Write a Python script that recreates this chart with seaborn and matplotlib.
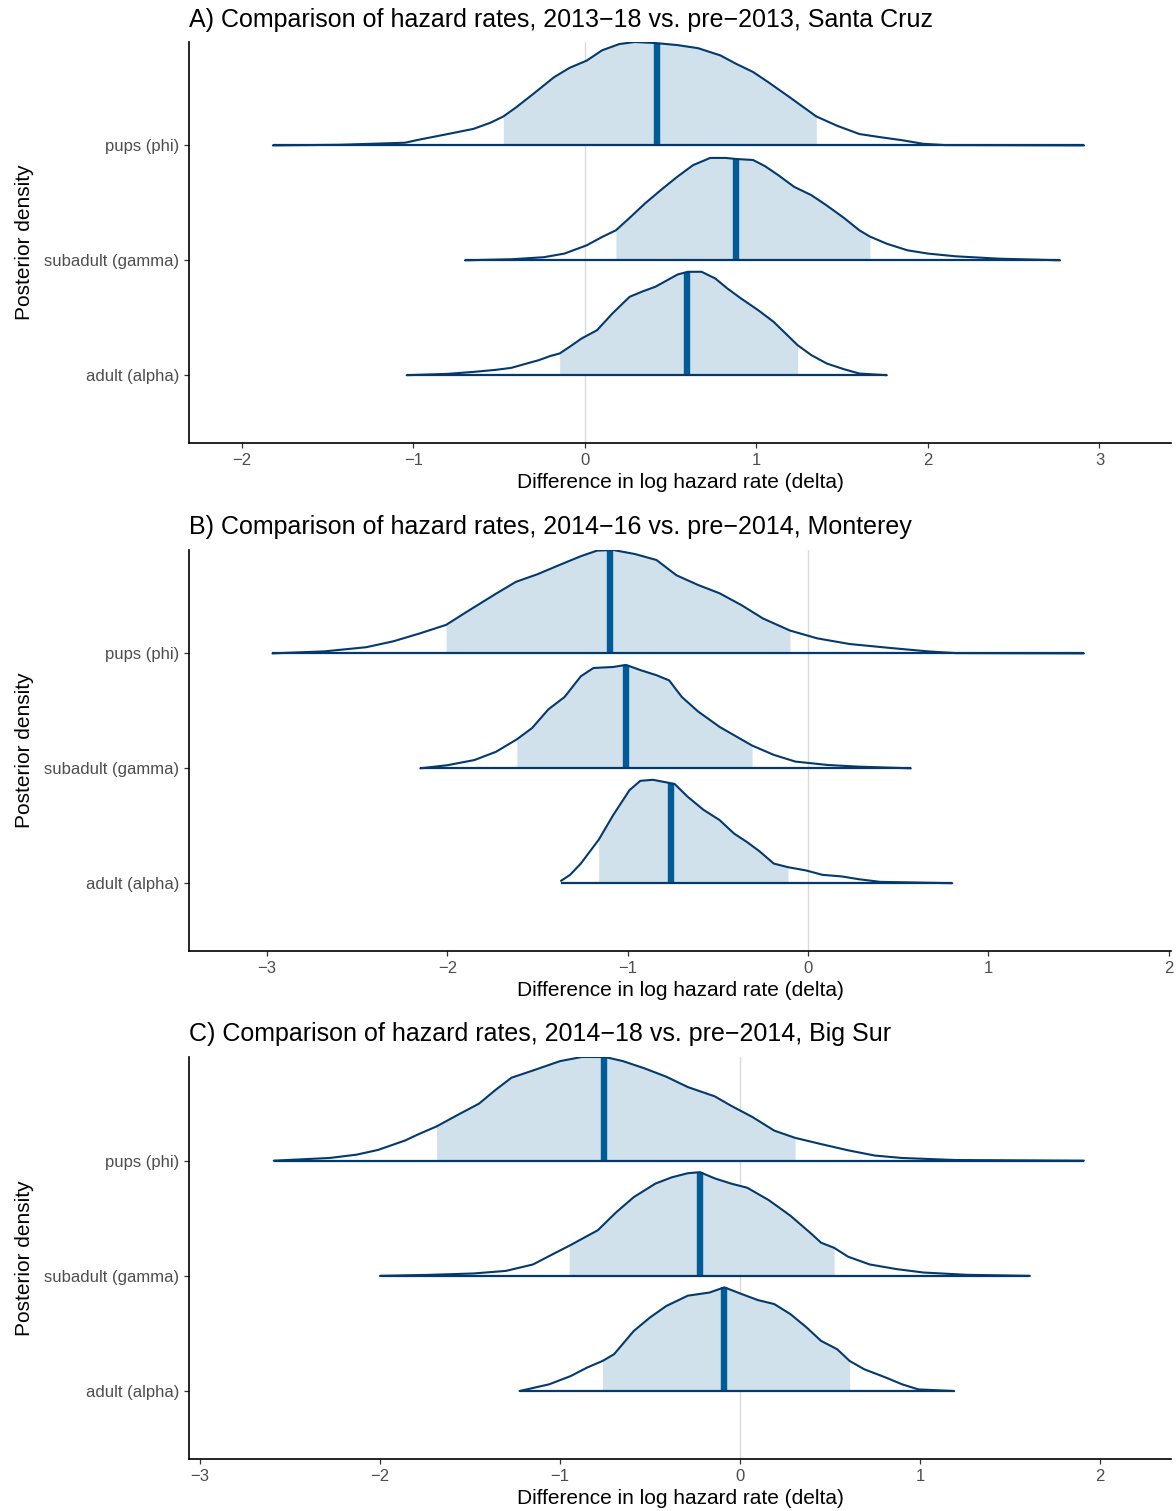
import numpy as np
import pandas as pd
import matplotlib
matplotlib.use("Agg")
import matplotlib.pyplot as plt
import seaborn as sns

# parameters, top to bottom
params = ["pups (phi)", "subadult (gamma)", "adult (alpha)"]
rows = [3, 2, 1]

titles = [
    "A) Comparison of hazard rates, 2013\u221218 vs. pre\u22122013, Santa Cruz",
    "B) Comparison of hazard rates, 2014\u221216 vs. pre\u22122014, Monterey",
    "C) Comparison of hazard rates, 2014\u221218 vs. pre\u22122014, Big Sur",
]

# --- A) Santa Cruz: posterior densities (height relative to the peak) ---
a_pups_x = [-1.82, -1.43, -1.05, -0.96, -0.80, -0.65, -0.55, -0.476, -0.40, -0.30, -0.18,
            -0.09, 0.01, 0.10, 0.20, 0.29, 0.41, 0.54, 0.66, 0.79, 0.88, 0.98, 1.07,
            1.19, 1.349, 1.47, 1.60, 1.72, 1.85, 1.97, 2.10, 2.91]
a_pups_d = [0, 0.006, 0.026, 0.058, 0.11, 0.16, 0.22, 0.28, 0.37, 0.50, 0.66,
            0.75, 0.82, 0.92, 0.98, 1.0, 0.99, 0.97, 0.94, 0.87, 0.79, 0.71, 0.61,
            0.47, 0.28, 0.19, 0.11, 0.08, 0.05, 0.016, 0.003, 0]
a_sub_x = [-0.70, -0.43, -0.24, -0.12, 0.01, 0.10, 0.18, 0.26, 0.35, 0.45, 0.54, 0.63,
           0.73, 0.82, 0.88, 0.98, 1.05, 1.13, 1.22, 1.32, 1.41, 1.51, 1.60, 1.661,
           1.76, 1.88, 2.00, 2.16, 2.41, 2.77]
a_sub_d = [0, 0.01, 0.03, 0.065, 0.145, 0.226, 0.29, 0.41, 0.55, 0.69, 0.81, 0.92,
           0.99, 0.99, 0.98, 0.97, 0.91, 0.82, 0.71, 0.63, 0.53, 0.41, 0.29, 0.23,
           0.16, 0.097, 0.065, 0.039, 0.016, 0]
a_adu_x = [-1.04, -0.80, -0.65, -0.52, -0.43, -0.34, -0.27, -0.20, -0.148, -0.09, -0.02,
           0.07, 0.16, 0.26, 0.34, 0.41, 0.48, 0.54, 0.60, 0.68, 0.76, 0.83, 0.91,
           1.01, 1.10, 1.18, 1.24, 1.32, 1.41, 1.51, 1.60, 1.76]
a_adu_d = [0, 0.013, 0.032, 0.052, 0.071, 0.113, 0.145, 0.187, 0.21, 0.274, 0.355,
           0.435, 0.597, 0.758, 0.813, 0.855, 0.919, 0.974, 1.0, 1.0, 0.935, 0.839, 0.742,
           0.629, 0.516, 0.387, 0.29, 0.194, 0.113, 0.058, 0.016, 0]
a_lo = [-0.476, 0.18, -0.148]
a_hi = [1.349, 1.661, 1.24]
a_med = [0.42, 0.88, 0.595]

# --- B) Monterey ---
b_pups_x = [-2.97, -2.68, -2.45, -2.30, -2.15, -2.007, -1.88, -1.73, -1.62, -1.50, -1.38,
            -1.26, -1.17, -1.08, -0.96, -0.84, -0.73, -0.61, -0.49, -0.37, -0.25, -0.10,
            0.05, 0.23, 0.46, 0.67, 0.82, 1.53]
b_pups_d = [0, 0.02, 0.06, 0.117, 0.195, 0.276, 0.416, 0.578, 0.692, 0.766, 0.854,
            0.94, 0.994, 1.0, 0.961, 0.903, 0.756, 0.662, 0.581, 0.468, 0.338, 0.221,
            0.146, 0.091, 0.052, 0.019, 0.003, 0]
b_sub_x = [-2.15, -2.00, -1.85, -1.73, -1.615, -1.53, -1.44, -1.35, -1.26, -1.19, -1.08,
           -1.01, -0.93, -0.84, -0.77, -0.70, -0.61, -0.49, -0.40, -0.31, -0.19, -0.07,
           0.11, 0.28, 0.57]
b_sub_d = [0, 0.03, 0.08, 0.16, 0.28, 0.39, 0.57, 0.69, 0.89, 0.97, 0.98,
           1.0, 0.95, 0.90, 0.85, 0.69, 0.55, 0.40, 0.31, 0.22, 0.13, 0.065,
           0.032, 0.016, 0]
b_adu_x = [-1.37, -1.32, -1.26, -1.161, -1.08, -0.99, -0.93, -0.86, -0.74, -0.67, -0.58,
           -0.49, -0.41, -0.34, -0.27, -0.19, -0.111, -0.01, 0.08, 0.19, 0.28, 0.40, 0.80]
b_adu_d = [0.023, 0.08, 0.19, 0.42, 0.66, 0.90, 0.99, 1.0, 0.96, 0.84, 0.71,
           0.61, 0.48, 0.40, 0.31, 0.19, 0.155, 0.123, 0.081, 0.065, 0.039, 0.013, 0]
b_lo = [-2.007, -1.615, -1.161]
b_hi = [-0.10, -0.31, -0.111]
b_med = [-1.10, -1.01, -0.76]

# --- C) Big Sur ---
c_pups_x = [-2.59, -2.28, -2.13, -2.01, -1.86, -1.78, -1.686, -1.57, -1.45, -1.36, -1.27,
            -1.15, -1.00, -0.88, -0.75, -0.65, -0.53, -0.41, -0.29, -0.14, -0.05, 0.07,
            0.19, 0.306, 0.45, 0.60, 0.75, 0.90, 1.20, 1.91]
c_pups_d = [0, 0.026, 0.058, 0.104, 0.195, 0.26, 0.33, 0.44, 0.55, 0.68, 0.80,
            0.87, 0.96, 1.0, 1.0, 0.96, 0.89, 0.81, 0.71, 0.62, 0.53, 0.42,
            0.29, 0.22, 0.16, 0.10, 0.049, 0.026, 0.006, 0]
c_sub_x = [-2.00, -1.72, -1.48, -1.30, -1.15, -1.05, -0.949, -0.79, -0.69, -0.59, -0.47,
           -0.38, -0.29, -0.223, -0.14, -0.05, 0.04, 0.16, 0.28, 0.40, 0.45, 0.523,
           0.60, 0.72, 0.87, 1.02, 1.26, 1.61]
c_sub_d = [0, 0.01, 0.023, 0.048, 0.11, 0.20, 0.29, 0.44, 0.61, 0.76, 0.89,
           0.95, 0.99, 1.0, 0.94, 0.89, 0.85, 0.73, 0.58, 0.40, 0.32, 0.27,
           0.185, 0.11, 0.065, 0.032, 0.01, 0]
c_adu_x = [-1.225, -1.06, -0.94, -0.85, -0.764, -0.70, -0.59, -0.50, -0.41, -0.29, -0.17,
           -0.087, 0.01, 0.10, 0.19, 0.28, 0.37, 0.45, 0.54, 0.609, 0.69, 0.81, 0.90,
           0.99, 1.19]
c_adu_d = [0, 0.065, 0.145, 0.226, 0.29, 0.355, 0.58, 0.71, 0.82, 0.92, 0.95,
           1.0, 0.935, 0.877, 0.839, 0.742, 0.613, 0.484, 0.403, 0.29, 0.21, 0.13, 0.065,
           0.016, 0]
c_lo = [-1.686, -0.949, -0.764]
c_hi = [0.306, 0.523, 0.609]
c_med = [-0.755, -0.223, -0.087]

xlims = [(-2.309, 3.417), (-3.433, 2.013), (-3.061, 2.394)]
xticks = [[-2, -1, 0, 1, 2, 3], [-3, -2, -1, 0, 1, 2], [-3, -2, -1, 0, 1, 2]]

light = "#d1e1ec"
dark = "#03396c"
mid_hi = "#005b96"
scale = 0.9  # peak height in row units

sns.set_theme(style="ticks")
plt.rcParams["font.family"] = ["Liberation Sans", "DejaVu Sans"]

fig = plt.figure(figsize=(11.76, 15.11), dpi=100)
W, H = 1176, 1511
tops = [42, 550, 1057]
bottoms = [443, 951, 1459]
left_px, right_px = 189, 1171


def draw_panel(ax, curves, lo, hi, med, xlim, ticks, title, title_y):
    frames = []
    for name, row, (xs, ds) in zip(params, rows, curves):
        frames.append(pd.DataFrame({"x": xs, "y": row + scale * np.array(ds), "param": name}))
    df = pd.concat(frames, ignore_index=True)

    ax.axvline(0, color="#dadada", lw=1.0, zorder=0)
    for i, (row, (xs, ds)) in enumerate(zip(rows, curves)):
        xs = np.array(xs)
        ys = row + scale * np.array(ds)
        m = (xs >= lo[i] - 1e-9) & (xs <= hi[i] + 1e-9)
        ax.fill_between(xs[m], row, ys[m], color=light, lw=0, zorder=1)
        ax.vlines(med[i], row, np.interp(med[i], xs, ys), color=mid_hi, lw=4.6, zorder=2)
        ax.hlines(row, xs.min(), xs.max(), color=dark, lw=1.6, zorder=3)

    sns.lineplot(data=df, x="x", y="y", units="param", estimator=None, sort=False,
                 color=dark, lw=1.5, ax=ax, legend=False, zorder=4,
                 solid_joinstyle="round", solid_capstyle="round")

    ax.set_xlim(*xlim)
    ax.set_ylim(0.41, 3.9)
    ax.set_xticks(ticks)
    ax.set_yticks(rows)
    ax.set_yticklabels(params)
    ax.tick_params(axis="both", labelsize=12, labelcolor="#4d4d4d", length=3.5,
                   width=0.9, pad=3.5, color="#333333")
    ax.set_xlabel("Difference in log hazard rate (delta)", fontsize=15, labelpad=4,
                  color="black")
    ax.set_ylabel("Posterior density", fontsize=15, labelpad=7, color="black")
    for s in ["top", "right"]:
        ax.spines[s].set_visible(False)
    for s in ["left", "bottom"]:
        ax.spines[s].set_color("black")
        ax.spines[s].set_linewidth(1.2)
    fig.text(left_px / W, 1 - title_y / H, title, fontsize=18, ha="left",
             va="baseline", color="black")


all_curves = [
    [(a_pups_x, a_pups_d), (a_sub_x, a_sub_d), (a_adu_x, a_adu_d)],
    [(b_pups_x, b_pups_d), (b_sub_x, b_sub_d), (b_adu_x, b_adu_d)],
    [(c_pups_x, c_pups_d), (c_sub_x, c_sub_d), (c_adu_x, c_adu_d)],
]
all_lo = [a_lo, b_lo, c_lo]
all_hi = [a_hi, b_hi, c_hi]
all_med = [a_med, b_med, c_med]
title_ys = [27, 534, 1041]

for k in range(3):
    ax = fig.add_axes([left_px / W, 1 - bottoms[k] / H,
                       (right_px - left_px) / W, (bottoms[k] - tops[k]) / H])
    draw_panel(ax, all_curves[k], all_lo[k], all_hi[k], all_med[k],
               xlims[k], xticks[k], titles[k], title_ys[k])

fig.savefig("out.png", dpi=100)
